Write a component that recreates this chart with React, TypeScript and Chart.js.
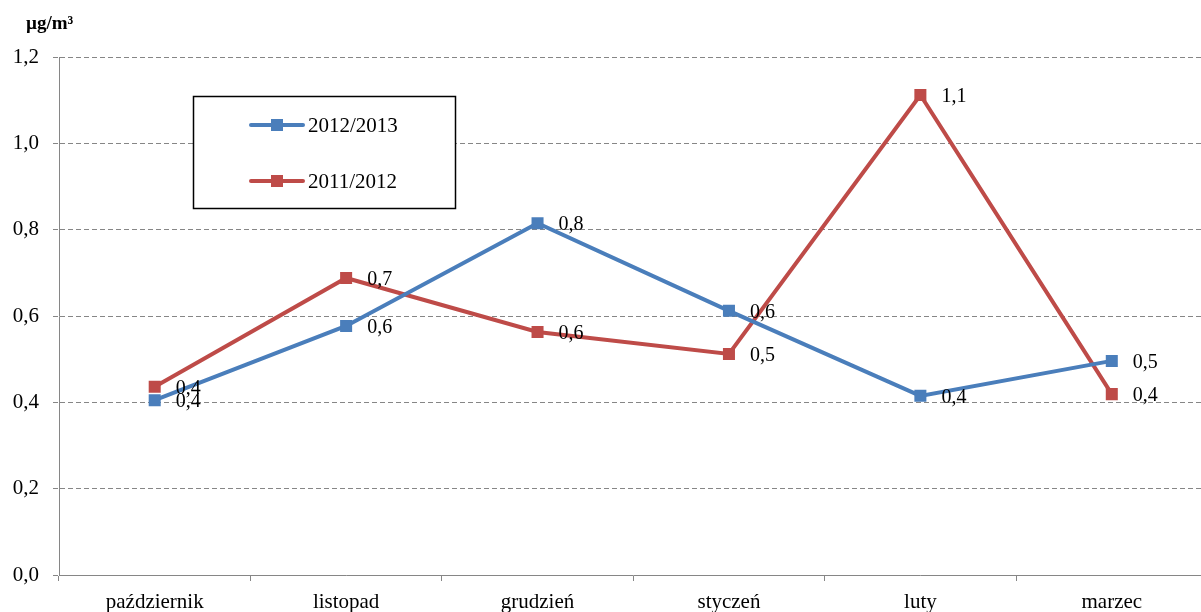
import React, { useEffect, useRef } from "react";
import { Chart, registerables } from "chart.js";

Chart.register(...registerables);

const categories = ["październik", "listopad", "grudzień", "styczeń", "luty", "marzec"];
const series2012_2013 = [0.405, 0.577, 0.815, 0.612, 0.415, 0.496];
const series2011_2012 = [0.436, 0.688, 0.563, 0.512, 1.112, 0.419];
const seriesNames = ["2012/2013", "2011/2012"];
const yUnit = "µg/m³";
const yMin = 0;
const yMax = 1.2;
const yStep = 0.2;

const BLUE = "#4a7ebb";
const RED = "#be4b48";
const GRID = "#868686";
const FONT = "'Liberation Serif', 'Times New Roman', serif";

const fmt = (v: number) => v.toFixed(1).replace(".", ",");

const overlayPlugin = {
  id: "overlay",
  afterDatasetsDraw(chart: any) {
    const ctx = chart.ctx;
    ctx.save();
    ctx.font = `20px ${FONT}`;
    ctx.fillStyle = "#000";
    ctx.textAlign = "left";
    ctx.textBaseline = "middle";
    chart.data.datasets.forEach((ds: any, i: number) => {
      const meta = chart.getDatasetMeta(i);
      meta.data.forEach((pt: any, j: number) => {
        ctx.fillText(fmt(ds.data[j]), pt.x + 21, pt.y + 2);
      });
    });
    ctx.restore();
  },
  afterDraw(chart: any) {
    const ctx = chart.ctx;
    ctx.save();
    // unit title
    ctx.font = `bold 19px ${FONT}`;
    ctx.fillStyle = "#000";
    ctx.textAlign = "left";
    ctx.textBaseline = "middle";
    ctx.fillText(yUnit, 26, 24);
    // legend box
    const bx = 193.5, by = 96.5, bw = 262, bh = 112;
    ctx.fillStyle = "#fff";
    ctx.fillRect(bx, by, bw, bh);
    ctx.strokeStyle = "#000";
    ctx.lineWidth = 1.5;
    ctx.strokeRect(bx, by, bw, bh);
    const rows = [
      { y: 125, color: BLUE, name: seriesNames[0] },
      { y: 181, color: RED, name: seriesNames[1] },
    ];
    rows.forEach((r) => {
      ctx.strokeStyle = r.color;
      ctx.lineWidth = 4;
      ctx.lineCap = "round";
      ctx.beginPath();
      ctx.moveTo(251, r.y);
      ctx.lineTo(303, r.y);
      ctx.stroke();
      ctx.fillStyle = r.color;
      ctx.fillRect(271, r.y - 6, 12, 12);
      ctx.fillStyle = "#000";
      ctx.font = `21px ${FONT}`;
      ctx.textBaseline = "middle";
      ctx.fillText(r.name, 308, r.y + 1);
    });
    ctx.restore();
  },
};

export default function App() {
  const ref = useRef<HTMLCanvasElement | null>(null);
  useEffect(() => {
    if (!ref.current) return;
    const chart = new Chart(ref.current, {
      type: "line",
      data: {
        labels: categories,
        datasets: [
          {
            label: seriesNames[0],
            data: series2012_2013,
            borderColor: BLUE,
            backgroundColor: BLUE,
            borderWidth: 4,
            pointStyle: "rect",
            pointRadius: 8.5,
            pointBorderWidth: 0,
            pointBackgroundColor: BLUE,
            tension: 0,
          },
          {
            label: seriesNames[1],
            data: series2011_2012,
            borderColor: RED,
            backgroundColor: RED,
            borderWidth: 4,
            pointStyle: "rect",
            pointRadius: 8.5,
            pointBorderWidth: 0,
            pointBackgroundColor: RED,
            tension: 0,
          },
        ],
      },
      options: {
        responsive: false,
        animation: false,
        devicePixelRatio: 1,
        layout: { padding: { top: 57, right: 3, left: 0, bottom: 0 } },
        plugins: { legend: { display: false }, tooltip: { enabled: false }, title: { display: false } },
        scales: {
          x: {
            offset: true,
            afterFit: (s: any) => { s.height = 37; },
            grid: {
              offset: true,
              drawOnChartArea: false,
              drawTicks: true,
              tickLength: 6,
              tickColor: GRID,
              color: GRID,
              lineWidth: 1,
            },
            border: { display: true, color: GRID, width: 1 },
            ticks: {
              color: "#000",
              font: { family: FONT, size: 21 },
              padding: 9,
              maxRotation: 0,
              autoSkip: false,
            },
          },
          y: {
            min: yMin,
            max: yMax,
            afterFit: (s: any) => { s.width = 59; },
            grid: {
              color: (c: any) => (c.tick && c.tick.value === 0 ? "rgba(0,0,0,0)" : GRID),
              tickColor: GRID,
              lineWidth: 1,
              drawTicks: true,
              tickLength: 6,
              tickBorderDash: [5, 3],
            },
            border: { display: true, color: GRID, width: 1, dash: [5, 3] },
            ticks: {
              stepSize: yStep,
              color: "#000",
              font: { family: FONT, size: 21 },
              padding: 14,
              callback: (v: any) => fmt(Number(v)),
            },
          },
        },
      },
      plugins: [overlayPlugin],
    });
    return () => chart.destroy();
  }, []);
  return (
    <div style={{ position: "fixed", left: 0, top: 0, width: 1201, height: 612, overflow: "hidden", background: "#fff" }}>
      <canvas ref={ref} width={1216} height={612} style={{ display: "block" }} />
    </div>
  );
}
